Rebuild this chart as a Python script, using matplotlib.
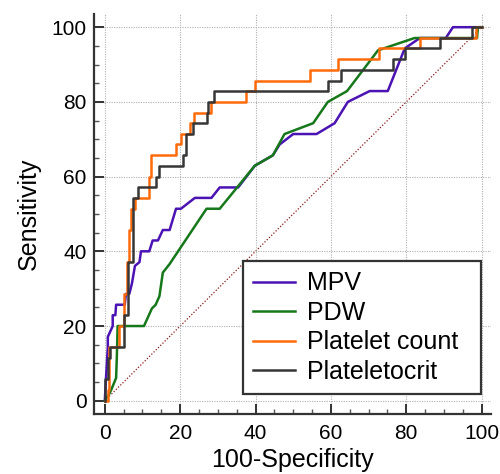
import matplotlib
matplotlib.use('Agg')
import matplotlib.pyplot as plt
from matplotlib.ticker import MultipleLocator

plt.rcParams['font.family'] = ['Liberation Sans', 'DejaVu Sans']

# ROC curves: x = 100-Specificity, y = Sensitivity
mpv_x = [0, 0.3, 0.8, 0.8, 2.1, 2.1, 2.8, 3.0, 5.3, 5.6, 6.5, 7.2, 8.0, 9.2, 9.6, 11.8,
         12.7, 14.1, 15.4, 17.2, 18.9, 20.2, 23.9, 28.3, 30.5, 35.4, 39.8, 44.6, 46.4,
         50.0, 56.2, 61.0, 64.5, 70.3, 75.1, 79.6, 83.6, 90.5, 92.4, 100]
mpv_y = [0, 5.7, 14.3, 17.1, 20.0, 22.9, 22.9, 25.7, 25.7, 28.6, 28.6, 31.4, 36.1, 37.1,
         40.0, 40.0, 42.9, 42.9, 45.7, 45.7, 51.4, 51.4, 54.3, 54.3, 57.1, 57.1, 62.9,
         65.7, 68.6, 71.4, 71.4, 74.3, 80.0, 82.9, 82.9, 94.3, 97.1, 97.1, 100, 100]

pdw_x = [0, 1.0, 1.7, 3.0, 3.2, 3.4, 10.4, 12.5, 13.5, 14.5, 15.4, 17.2, 27.0, 30.5,
         39.8, 44.6, 47.7, 55.3, 59.2, 64.3, 72.5, 82.2, 98.8, 99.0, 100]
pdw_y = [0, 1.5, 2.9, 6.1, 11.9, 20.0, 20.0, 24.7, 25.7, 28.0, 34.3, 36.6, 51.4, 51.4,
         62.9, 65.7, 71.4, 74.3, 80.0, 82.9, 93.8, 97.1, 97.1, 100, 100]

plt_x = [0, 0.8, 0.8, 1.2, 1.2, 3.9, 3.9, 5.1, 5.1, 5.8, 5.8, 6.3, 6.3, 7.0, 7.0, 8.0,
         8.0, 11.8, 11.8, 12.3, 12.3, 19.0, 19.0, 20.3, 20.3, 22.5, 22.5, 23.8, 23.8,
         28.3, 28.3, 37.4, 37.4, 39.8, 39.8, 54.4, 54.4, 61.9, 61.9, 72.9, 72.9, 83.6,
         83.6, 98.5, 98.5, 100]
plt_y = [0, 0, 2.9, 2.9, 14.3, 14.3, 20.0, 20.0, 28.6, 28.6, 37.1, 37.1, 45.7, 45.7,
         51.4, 51.4, 54.3, 54.3, 60.0, 60.0, 65.7, 65.7, 68.6, 68.6, 71.4, 71.4, 74.3,
         74.3, 77.1, 77.1, 80.0, 80.0, 82.9, 82.9, 85.7, 85.7, 88.6, 88.6, 91.4, 91.4,
         94.3, 94.3, 97.1, 97.1, 100, 100]

pct_x = [0, 0, 0.9, 0.9, 1.3, 1.3, 5.1, 5.1, 6.1, 6.1, 7.4, 7.4, 8.9, 8.9, 13.6, 13.6,
         14.5, 14.5, 20.8, 20.8, 21.6, 21.6, 23.3, 23.3, 27.0, 27.0, 27.5, 27.5, 28.9,
         28.9, 59.2, 59.2, 62.8, 62.8, 76.5, 76.5, 79.6, 79.6, 88.9, 88.9, 97.5, 97.5, 100]
pct_y = [0, 5.7, 5.7, 11.4, 11.4, 14.3, 14.3, 22.9, 22.9, 37.1, 37.1, 54.3, 54.3, 57.1,
         57.1, 60.0, 60.0, 62.9, 62.9, 65.7, 65.7, 71.4, 71.4, 74.3, 74.3, 77.1, 77.1,
         80.0, 80.0, 82.9, 82.9, 85.7, 85.7, 88.6, 88.6, 91.4, 91.4, 94.3, 94.3, 97.1,
         97.1, 100, 100]

fig = plt.figure(figsize=(5, 4.74), dpi=100)
ax = fig.add_axes([0.187, 0.127, 0.795, 0.844])

ax.plot([0, 100], [0, 100], color='#8b1a1a', linestyle=(0, (1, 1.5)), linewidth=0.9, zorder=1)
ax.plot(mpv_x, mpv_y, color='#4b12b4', linewidth=1.8, label='MPV', zorder=2)
ax.plot(pdw_x, pdw_y, color='#16781a', linewidth=1.8, label='PDW', zorder=2)
ax.plot(plt_x, plt_y, color='#ff6a0a', linewidth=1.8, label='Platelet count', zorder=3)
ax.plot(pct_x, pct_y, color='#363636', linewidth=1.8, label='Plateletocrit', zorder=4)

ax.set_xlim(-3, 102.5)
ax.set_ylim(-3.5, 103.6)
ax.xaxis.set_major_locator(MultipleLocator(20))
ax.yaxis.set_major_locator(MultipleLocator(20))
ax.xaxis.set_minor_locator(MultipleLocator(5))
ax.yaxis.set_minor_locator(MultipleLocator(5))
ax.grid(True, which='major', color='#b0b0b0', linestyle=(0, (1, 1.2)), linewidth=0.8)

for side in ['top', 'right']:
    ax.spines[side].set_visible(False)
for side in ['left', 'bottom']:
    ax.spines[side].set_linewidth(1.6)
    ax.spines[side].set_color('#333333')

ax.tick_params(which='major', direction='in', length=7, width=1.4, color='#333333',
               labelsize=15, pad=5)
ax.tick_params(axis='x', which='major', pad=7)
ax.tick_params(which='minor', direction='in', length=3.5, width=1.0, color='#555555')

ax.set_xlabel('100-Specificity', fontsize=18, labelpad=4)
ax.set_ylabel('Sensitivity', fontsize=18, labelpad=8)

leg = ax.legend(loc='lower left', bbox_to_anchor=(0.376, 0.05, 0.599, 0.335), mode='expand',
                borderaxespad=0, fontsize=18, handlelength=1.7, handletextpad=0.45,
                labelspacing=0.22, borderpad=0.4, fancybox=False, framealpha=1)
leg.get_frame().set_edgecolor('#333333')
leg.get_frame().set_linewidth(1.6)

fig.savefig('out.png', dpi=100)
